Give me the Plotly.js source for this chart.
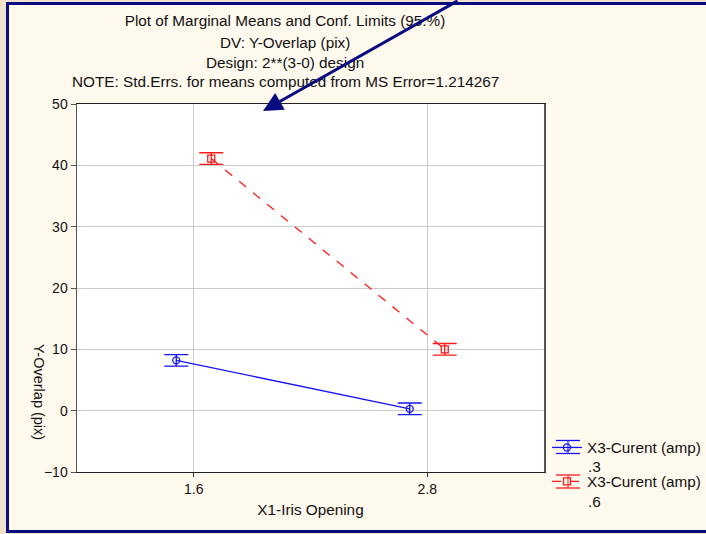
<!DOCTYPE html>
<html><head><meta charset="utf-8">
<script src="https://cdn.plot.ly/plotly-3.0.1.min.js"></script>
<style>html,body{margin:0;padding:0;background:#EFE3CB}#chart{width:706px;height:534px}</style>
</head><body><div id="chart"></div>
<script>
// ---- data ----
const irisOpening = ['1.6', '2.8'];
const factorName = 'X3-Curent (amp)';
const series1Level = '.3';
const series1Means = [8.2, 0.3];
const series1Err = [0.95, 0.95];
const series2Level = '.6';
const series2Means = [41.1, 10.0];
const series2Err = [0.95, 0.95];
const yTickVals = [-10, 0, 10, 20, 30, 40, 50];
const titleLines = [
  'Plot of Marginal Means and Conf. Limits (95.%)',
  'DV: Y-Overlap (pix)',
  'Design: 2**(3-0) design',
  'NOTE: Std.Errs. for means computed from MS Error=1.214267'
];
const xTitle = 'X1-Iris Opening';
const yTitle = 'Y-Overlap (pix)';

// ---- layout helpers ----
const W = 706, H = 534, M = {l: 77, r: 162, t: 104, b: 62, autoexpand: false};
const pw = W - M.l - M.r, ph = H - M.t - M.b;
const px = x => (x - M.l) / pw;
const py = y => (H - M.b - y) / ph;
const catIdx = irisOpening.map((c, i) => i);
const shift = 0.075;
const FONT = 'Liberation Sans, Arial, sans-serif';
const TS = 15.3;
const NAVY = '#0B0B80', CREAM = '#FFF9EE';
const BLUE = '#1515F5', RED = '#FF1A1A';

const traces = [
  {
    type: 'scatter', mode: 'lines+markers', name: factorName, legendgroup: 'g1',
    x: catIdx.map(i => i - shift), y: series1Means,
    line: {color: BLUE, width: 1.3},
    marker: {symbol: 'circle-open', size: 7, color: BLUE, line: {width: 1.3}},
    error_y: {type: 'data', array: series1Err, visible: true, color: BLUE, thickness: 1.3, width: 12}
  },
  {
    type: 'scatter', mode: 'lines+markers', name: factorName, legendgroup: 'g2',
    x: catIdx.map(i => i + shift), y: series2Means,
    line: {color: RED, width: 1.3, dash: 'dash'},
    marker: {symbol: 'square-open', size: 7, color: RED, line: {width: 1.3}},
    error_y: {type: 'data', array: series2Err, visible: true, color: RED, thickness: 1.3, width: 12}
  }
];

const levelNote = (t, yPix) => ({
  text: t, xref: 'paper', yref: 'paper', x: px(586), y: py(yPix),
  xanchor: 'left', yanchor: 'middle', showarrow: false,
  font: {family: FONT, size: TS, color: '#111'}
});
// error-bar caps drawn around the legend symbols
const legendCaps = (yc, color) => [-6.5, 6.5].map(d => ({
  type: 'line', xref: 'paper', yref: 'paper',
  x0: px(556), x1: px(580), y0: py(yc + d), y1: py(yc + d),
  line: {color: color, width: 1.3}
})).concat([{
  type: 'line', xref: 'paper', yref: 'paper',
  x0: px(568), x1: px(568), y0: py(yc - 6.5), y1: py(yc + 6.5),
  line: {color: color, width: 1}
}]);

const layout = {
  width: W, height: H,
  margin: M,
  paper_bgcolor: '#EFE3CB',
  plot_bgcolor: 'rgba(0,0,0,0)',
  font: {family: FONT, size: TS, color: '#111'},
  showlegend: true,
  title: {
    text: titleLines[0], font: {family: FONT, size: TS, color: '#111'},
    xref: 'paper', x: px(285), xanchor: 'center',
    yref: 'container', y: 1 - 21 / H, yanchor: 'middle'
  },
  xaxis: {
    range: [-0.5, 1.5], tickvals: catIdx, ticktext: irisOpening,
    ticks: 'outside', ticklen: 4, tickcolor: '#333',
    showgrid: true, gridcolor: '#CBCBCB', gridwidth: 1,
    zeroline: false, showline: true, linecolor: '#222', linewidth: 1.3, mirror: true,
    tickfont: {family: FONT, size: 14, color: '#111'},
    title: {text: xTitle, font: {family: FONT, size: TS, color: '#111'}, standoff: 8}
  },
  yaxis: {
    range: [-10, 50], tickvals: yTickVals,
    ticks: 'outside', ticklen: 5, tickcolor: '#555',
    showgrid: true, gridcolor: '#CBCBCB', gridwidth: 1,
    zeroline: false, showline: true, linecolor: '#555', linewidth: 1.5, mirror: true,
    tickfont: {family: FONT, size: 14, color: '#111'}
  },
  legend: {
    x: px(547), y: py(431), xanchor: 'left', yanchor: 'top',
    bgcolor: 'rgba(0,0,0,0)', font: {family: FONT, size: TS, color: '#111'},
    itemwidth: 30, tracegroupgap: 11
  },
  shapes: [
    {type: 'rect', xref: 'paper', yref: 'paper', layer: 'below',
     x0: px(7.5), x1: px(740), y0: py(3.5), y1: py(531.5),
     fillcolor: CREAM, line: {color: NAVY, width: 3}},
    {type: 'rect', xref: 'paper', yref: 'paper', layer: 'below',
     x0: 0, x1: 1, y0: 0, y1: 1, fillcolor: '#FFFFFF', line: {width: 0}},
    ...legendCaps(447, BLUE),
    ...legendCaps(481.5, RED)
  ],
  annotations: [
    ...titleLines.slice(1).map((t, i) => ({
      text: t, xref: 'paper', yref: 'paper', x: px(285), y: py(42.5 + 19.5 * i),
      xanchor: 'center', yanchor: 'middle', showarrow: false,
      font: {family: FONT, size: TS, color: '#111'}
    })),
    levelNote(series1Level, 466),
    levelNote(series2Level, 501),
    {text: yTitle, xref: 'paper', yref: 'paper', x: px(39), y: py(392),
     xanchor: 'center', yanchor: 'middle', textangle: 90, showarrow: false,
     font: {family: FONT, size: 14.5, color: '#111'}},
    {text: '', xref: 'paper', yref: 'paper', x: px(263), y: py(111),
     showarrow: true, arrowhead: 2, arrowsize: 1.3, arrowwidth: 3, arrowcolor: NAVY,
     ax: 196, ay: -116, standoff: 0}
  ]
};

Plotly.newPlot('chart', traces, layout, {displayModeBar: false, staticPlot: true});
</script>
</body></html>
